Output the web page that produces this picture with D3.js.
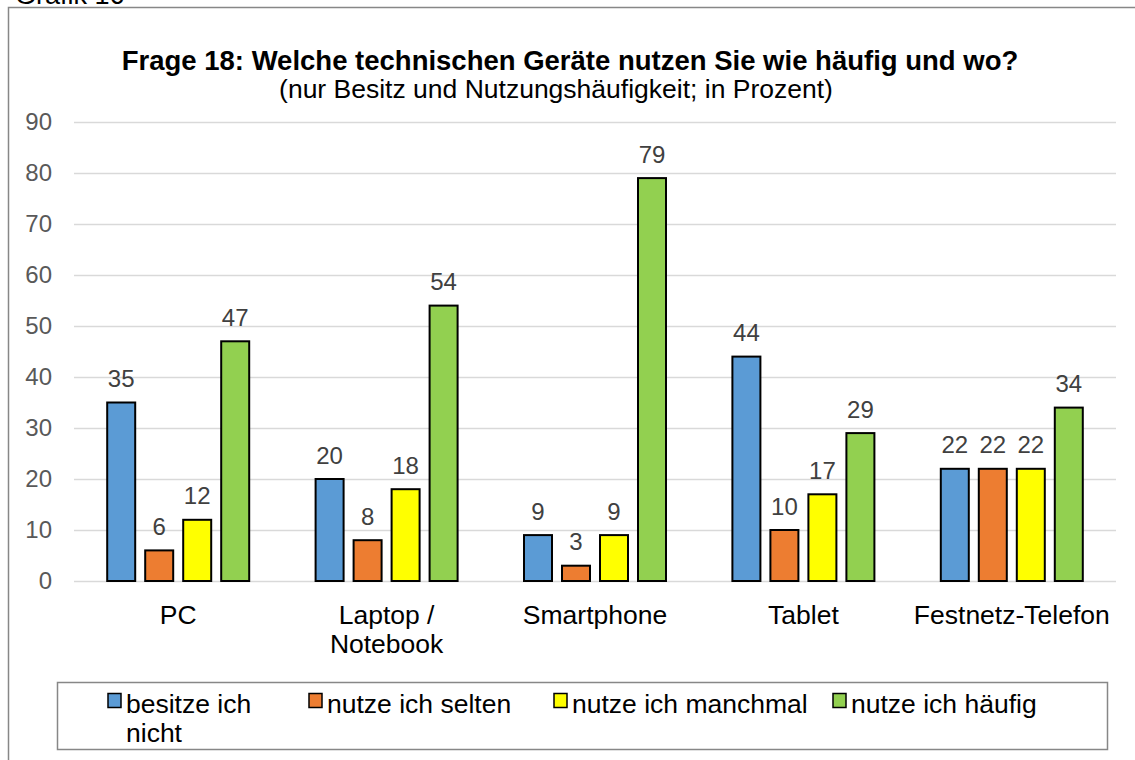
<!DOCTYPE html>
<html><head><meta charset="utf-8">
<script src="https://cdn.jsdelivr.net/npm/d3@7"></script>
<style>body{margin:0;background:#fff}svg{display:block;font-family:Arial,"Liberation Sans",sans-serif}</style>
</head><body>
<svg id="c" width="1135" height="760"></svg>
<script>
const categories = ["PC", "Laptop / Notebook", "Smartphone", "Tablet", "Festnetz-Telefon"];
const seriesNames = ["besitze ich nicht", "nutze ich selten", "nutze ich manchmal", "nutze ich häufig"];
const besitzeNicht = [35, 20, 9, 44, 22];
const nutzeSelten = [6, 8, 3, 10, 22];
const nutzeManchmal = [12, 18, 9, 17, 22];
const nutzeHaeufig = [47, 54, 79, 29, 34];
const yTicks = [0, 10, 20, 30, 40, 50, 60, 70, 80, 90];
const titleText = "Frage 18: Welche technischen Geräte nutzen Sie wie häufig und wo?";
const subtitleText = "(nur Besitz und Nutzungshäufigkeit; in Prozent)";
const headerText = "Grafik 16";

const series = [besitzeNicht, nutzeSelten, nutzeManchmal, nutzeHaeufig];
const colors = ["#5B9BD5", "#ED7D31", "#FFFF00", "#92D050"];
const FONT = "Arial, 'Liberation Sans', sans-serif";

const svg = d3.select("#c");
const plot = {left: 74, right: 1116, top: 122, bottom: 581};

svg.append("text").attr("x", 15).attr("y", 4).attr("font-size", 27).attr("fill", "#000").text(headerText);
svg.append("rect").attr("x", 8.5).attr("y", 7.5).attr("width", 1140).attr("height", 800)
  .attr("fill", "none").attr("stroke", "#878787").attr("stroke-width", 1.5);

svg.append("text").attr("x", 570).attr("y", 70).attr("text-anchor", "middle")
  .attr("font-size", 27.5).attr("font-weight", "bold").text(titleText);
svg.append("text").attr("x", 556).attr("y", 98).attr("text-anchor", "middle")
  .attr("font-size", 26.5).text(subtitleText);

const y = d3.scaleLinear().domain([0, 90]).range([plot.bottom, plot.top]);
const x0 = d3.scaleBand().domain(categories).range([plot.left, plot.right]);
const groupW = 38 * 4 - 8;
const x1 = d3.scaleBand().domain(d3.range(series.length)).range([0, groupW]).paddingInner(8 / 38).paddingOuter(0);

// gridlines
svg.append("g").selectAll("line").data(yTicks).join("line")
  .attr("x1", plot.left).attr("x2", plot.right)
  .attr("y1", d => Math.round(y(d)) + 0.5).attr("y2", d => Math.round(y(d)) + 0.5)
  .attr("stroke", "#D9D9D9").attr("stroke-width", 1.5);

// y axis labels
const yAxis = d3.axisLeft(y).tickValues(yTicks).tickSize(0).tickPadding(0);
const ga = svg.append("g").attr("transform", `translate(52,0)`).call(yAxis);
ga.select(".domain").remove();
ga.selectAll("text").attr("font-size", 24).attr("fill", "#595959").attr("font-family", FONT);

// bars
const groups = svg.append("g").selectAll("g").data(categories).join("g")
  .attr("transform", c => `translate(${x0(c) + x0.bandwidth() / 2 - groupW / 2},0)`);
groups.each(function (c, ci) {
  const g = d3.select(this);
  series.forEach((s, si) => {
    const v = s[ci];
    const bx = x1(si);
    const bw = x1.bandwidth();
    g.append("rect").attr("x", bx + 1).attr("y", y(v)).attr("width", bw - 2).attr("height", y(0) - y(v))
      .attr("fill", colors[si]).attr("stroke", "#000").attr("stroke-width", 2);
    g.append("text").attr("x", bx + bw / 2).attr("y", y(v) - 15.5).attr("text-anchor", "middle")
      .attr("font-size", 24).attr("fill", "#404040").text(v);
  });
});

// category labels
const xAxis = d3.axisBottom(x0).tickSize(0).tickPadding(0);
const gx = svg.append("g").attr("transform", `translate(0,${plot.bottom})`).call(xAxis);
gx.select(".domain").remove();
gx.selectAll("text").remove();
gx.selectAll(".tick").each(function (c) {
  const t = d3.select(this).append("text").attr("text-anchor", "middle").attr("font-size", 26.5).attr("fill", "#000")
    .attr("font-family", FONT);
  const parts = c === "Laptop / Notebook" ? ["Laptop /", "Notebook"] : [c];
  parts.forEach((p, i) => t.append("tspan").attr("x", 0).attr("y", 43 + i * 29).text(p));
});

// legend
svg.append("rect").attr("x", 57.5).attr("y", 682.5).attr("width", 1050).attr("height", 67)
  .attr("fill", "#fff").attr("stroke", "#878787").attr("stroke-width", 1.5);
const legX = [108, 309, 554, 833];
const legLines = [["besitze ich", "nicht"], ["nutze ich selten"], ["nutze ich manchmal"], ["nutze ich häufig"]];
seriesNames.forEach((n, i) => {
  svg.append("rect").attr("x", legX[i]).attr("y", 693.5).attr("width", 13).attr("height", 14)
    .attr("fill", colors[i]).attr("stroke", "#000").attr("stroke-width", 1.5);
  const t = svg.append("text").attr("font-size", 26.5).attr("fill", "#000");
  legLines[i].forEach((l, k) => t.append("tspan").attr("x", legX[i] + 18).attr("y", 713 + k * 29).text(l));
});
</script>
</body></html>
